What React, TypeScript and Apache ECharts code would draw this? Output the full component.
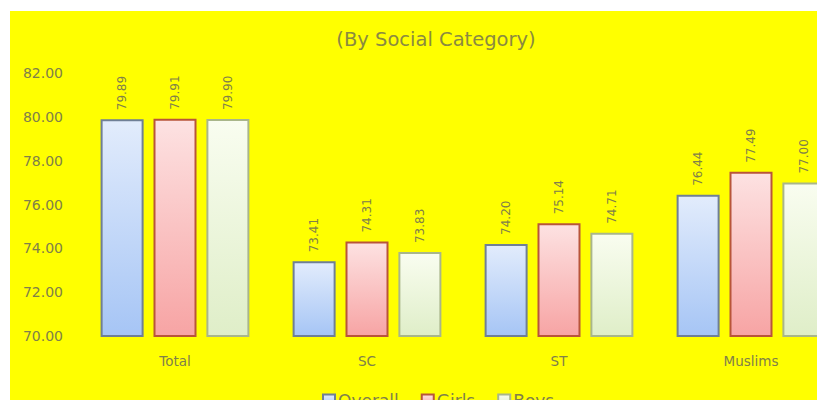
import React, { useEffect, useRef } from "react";
import * as echarts from "echarts";

const categories = ["Total", "SC", "ST", "Muslims"];
const overall = [79.89, 73.41, 74.2, 76.44];
const girls = [79.91, 74.31, 75.14, 77.49];
const boys = [79.9, 73.83, 74.71, 77.0];
const yTicks = { min: 70, max: 82, interval: 2 };

const FONT = "'DejaVu Sans', sans-serif";
const TEXT = "#80804a";

function grad(top: string, bottom: string) {
  return new echarts.graphic.LinearGradient(0, 0, 0, 1, [
    { offset: 0, color: top },
    { offset: 1, color: bottom },
  ]);
}

export default function App() {
  const ref = useRef<HTMLDivElement>(null);
  useEffect(() => {
    document.body.style.margin = "0";
    if (!ref.current) return;
    const chart = echarts.init(ref.current, undefined, { renderer: "svg" });
    const label = {
      show: true,
      position: "top" as const,
      rotate: 90,
      align: "left" as const,
      verticalAlign: "middle" as const,
      distance: 9,
      fontSize: 12,
      fontFamily: FONT,
      color: TEXT,
      formatter: (p: any) => Number(p.value).toFixed(2),
    };
    const mk = (name: string, data: number[], top: string, bottom: string, border: string) => ({
      name,
      type: "bar",
      data,
      barWidth: 43,
      barGap: "23%",
      itemStyle: { color: grad(top, bottom), borderColor: border, borderWidth: 2 },
      label,
    });
    chart.setOption({
      animation: false,
      backgroundColor: "#ffff00",
      graphic: [
        {
          type: "text",
          x: 426,
          y: 28,
          style: {
            text: "(By Social Category)",
            align: "center",
            verticalAlign: "middle",
            fontSize: 19.5,
            fontFamily: FONT,
            fill: "#8a8a40",
          },
        },
      ],
      legend: {
        data: ["Overall", "Girls", "Boys"],
        left: 307,
        top: 376,
        itemWidth: 12,
        itemHeight: 12,
        itemGap: 22,
        icon: "rect",
        textStyle: { fontSize: 17, fontFamily: FONT, color: TEXT, padding: [0, 0, 0, -2] },
      },
      grid: { left: 69, top: 62, width: 768, height: 263 },
      xAxis: {
        type: "category",
        data: categories,
        axisLine: { show: false },
        axisTick: { show: false },
        axisLabel: { fontSize: 13.5, fontFamily: FONT, color: TEXT, margin: 18 },
      },
      yAxis: {
        type: "value",
        min: yTicks.min,
        max: yTicks.max,
        interval: yTicks.interval,
        splitLine: { show: false },
        axisLine: { show: false },
        axisTick: { show: false },
        axisLabel: {
          fontSize: 14,
          fontFamily: FONT,
          color: TEXT,
          margin: 16,
          formatter: (v: number) => v.toFixed(2),
        },
      },
      series: [
        mk("Overall", overall, "#e2ecfc", "#a6c5f5", "#6f7f96"),
        mk("Girls", girls, "#fde2e2", "#f7a4a4", "#b8553a"),
        mk("Boys", boys, "#f9fdf0", "#dfeec8", "#a9b68a"),
      ],
    });
    return () => chart.dispose();
  }, []);
  return (
    <div style={{ position: "relative", width: 817, height: 400, background: "#ffffff", overflow: "hidden" }}>
      <div ref={ref} style={{ position: "absolute", left: 10, top: 11, width: 900, height: 389 }} />
    </div>
  );
}
